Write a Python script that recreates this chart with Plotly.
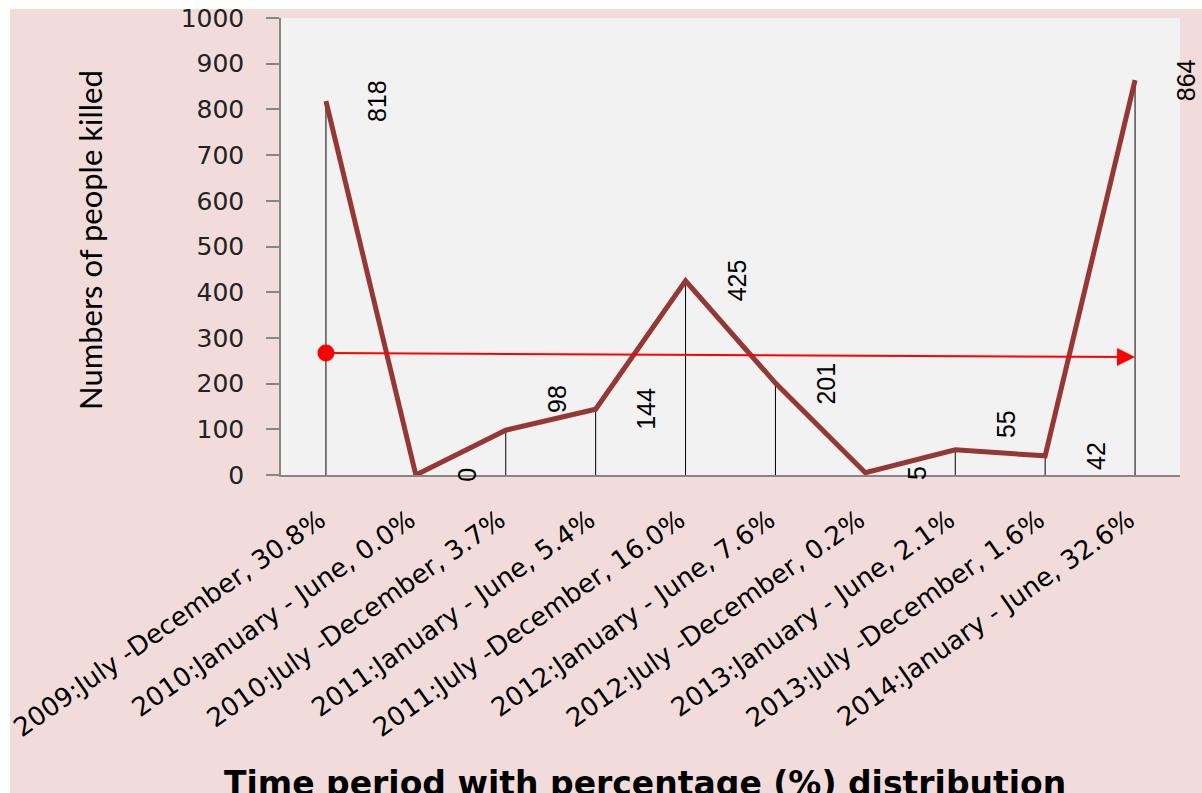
import plotly.graph_objects as go

periods = [
    "2009:July -December, 30.8%",
    "2010:January - June, 0.0%",
    "2010:July -December, 3.7%",
    "2011:January - June, 5.4%",
    "2011:July -December, 16.0%",
    "2012:January - June, 7.6%",
    "2012:July -December, 0.2%",
    "2013:January - June, 2.1%",
    "2013:July -December, 1.6%",
    "2014:January - June, 32.6%",
]
killed = [818, 0, 98, 144, 425, 201, 5, 55, 42, 864]
trend_start = 267
trend_end = 258
y_ticks = [0, 100, 200, 300, 400, 500, 600, 700, 800, 900, 1000]

W, H = 1202, 793
ML, MR, MT, MB = 281, 22, 18, 318
PW, PH = W - ML - MR, H - MT - MB


def px_x(p):  # page pixel -> paper
    return (p - ML) / PW


def px_y(p):
    return (H - MB - p) / PH


fig = go.Figure()

# drop lines
dx, dy = [], []
for i, v in enumerate(killed):
    dx += [i, i, None]
    dy += [0, v, None]
fig.add_trace(go.Scatter(x=dx, y=dy, mode="lines",
                         line=dict(color="black", width=1),
                         hoverinfo="skip", showlegend=False))

fig.add_trace(go.Scatter(x=list(range(len(periods))), y=killed, mode="lines",
                         line=dict(color="#953735", width=5),
                         showlegend=False))

# red start dot
fig.add_trace(go.Scatter(x=[0], y=[trend_start], mode="markers",
                         marker=dict(color="#ff0000", size=17),
                         showlegend=False))

annotations = []
label_yshift = {2: 31, 7: 26}
for i, v in enumerate(killed):
    annotations.append(dict(
        x=i, y=v, xref="x", yref="y", text=str(v), showarrow=False,
        textangle=-90, xshift=51, yshift=label_yshift.get(i, 0),
        font=dict(family="Liberation Sans", size=25, color="black"),
        xanchor="center", yanchor="middle"))

annotations.append(dict(
    x=len(periods) - 1, y=trend_end, ax=0, ay=trend_start,
    xref="x", yref="y", axref="x", ayref="y", text="", showarrow=True,
    arrowhead=2, arrowsize=1.8, arrowwidth=2, arrowcolor="#ff0000",
    standoff=0, startstandoff=0))

annotations.append(dict(
    x=px_x(90), y=px_y(240), xref="paper", yref="paper",
    text="Numbers of people killed", showarrow=False, textangle=-90,
    font=dict(family="Lato", size=31, color="black"),
    xanchor="center", yanchor="middle"))

annotations.append(dict(
    x=px_x(645), y=px_y(762), xref="paper", yref="paper",
    text="<b>Time period with percentage (%) distribution</b>", showarrow=False,
    font=dict(family="DejaVu Sans", size=33, color="black"),
    xanchor="center", yanchor="top"))

shapes = [
    dict(type="rect", xref="paper", yref="paper", x0=px_x(0), x1=px_x(10),
         y0=px_y(H), y1=px_y(0), fillcolor="white", line_width=0, layer="below"),
    dict(type="rect", xref="paper", yref="paper", x0=px_x(0), x1=px_x(W),
         y0=px_y(9), y1=px_y(0), fillcolor="white", line_width=0, layer="below"),
]

fig.update_layout(
    width=W, height=H,
    margin=dict(l=ML, r=MR, t=MT, b=MB, pad=0, autoexpand=False),
    paper_bgcolor="#f2dcdb",
    plot_bgcolor="#f2f2f2",
    showlegend=False,
    annotations=annotations,
    shapes=shapes,
    xaxis=dict(
        tickmode="array", tickvals=list(range(len(periods))), ticktext=periods,
        range=[-0.5, len(periods) - 0.5], tickangle=-35, automargin=False,
        showgrid=False, zeroline=False, showline=True, linecolor="#868686",
        linewidth=1.5, ticks="", ticklabelstandoff=18, ticklabelshift=-6,
        tickfont=dict(family="DejaVu Sans", size=26, color="black"),
    ),
    yaxis=dict(
        range=[0, 1000], tickmode="array", tickvals=y_ticks, automargin=False,
        showgrid=False, zeroline=False, showline=True, linecolor="#868686",
        linewidth=1.5, ticks="outside", ticklen=13, tickcolor="#868686",
        tickwidth=1.5, ticklabelstandoff=17,
        tickfont=dict(family="DejaVu Sans", size=25, color="#222222"),
    ),
)

fig.write_html(
    "out.html",
    config={"displayModeBar": False},
    post_script="document.body.style.margin='0';document.body.style.overflow='hidden';",
)
